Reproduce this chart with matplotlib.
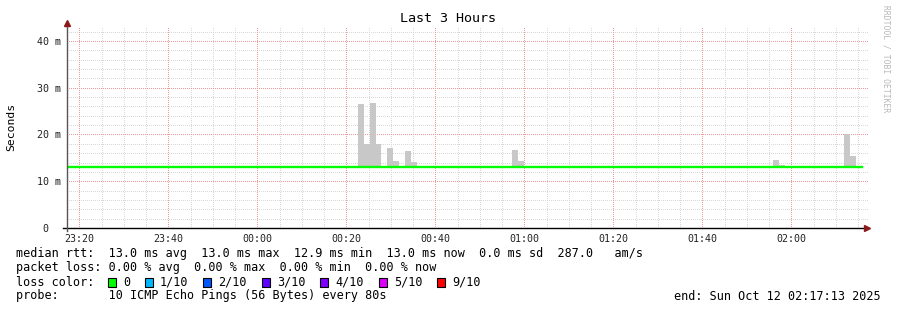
from datetime import datetime, timedelta

import matplotlib
matplotlib.use("Agg")
import matplotlib.dates as mdates
import matplotlib.pyplot as plt
from matplotlib.lines import Line2D
from matplotlib.patches import Rectangle


# DATA
START_TIME = datetime(2025, 10, 11, 23, 17, 13)
END_TIME = datetime(2025, 10, 12, 2, 17, 13)
STEP_SECONDS = 80

# median rtt per 80 s step (ms), flat the whole window
median_rtt_ms = [13.0] * 134

# smoke (spread of the 10 pings) only where it shows above the median
smoke_steps = [49, 50, 51, 52, 54, 55, 57, 58, 75, 76, 119, 120, 126, 127, 131, 132]
smoke_low_ms = [13.0, 13.0, 13.0, 13.0, 13.0, 13.0, 13.0, 13.0,
                13.0, 13.0, 13.0, 13.0, 13.0, 13.0, 13.0, 13.0]
smoke_high_ms = [26.5, 17.9, 26.8, 17.9, 17.1, 14.4, 16.5, 14.1,
                 16.7, 14.4, 14.6, 13.5, 13.3, 13.3, 20.1, 15.4]

y_ticks = [0, 10, 20, 30, 40]
y_tick_labels = ["0  ", "10 m", "20 m", "30 m", "40 m"]
y_minor_ticks = [2, 4, 6, 8, 12, 14, 16, 18, 22, 24, 26, 28,
                 32, 34, 36, 38, 42]
x_minor_minutes = [5, 10, 15, 25, 30, 35, 45, 50, 55]

loss_labels = ["0", "1/10", "2/10", "3/10", "4/10", "5/10", "9/10"]
loss_colors = ["#00ff00", "#00b8ff", "#0059ff", "#5e00ff",
               "#7e00ff", "#dd00ff", "#ff0000"]

legend_rows = [
    "median rtt:  13.0 ms avg  13.0 ms max  12.9 ms min  13.0 ms now  0.0 ms sd  287.0   am/s",
    "packet loss: 0.00 % avg  0.00 % max  0.00 % min  0.00 % now",
    "loss color:",
    "probe:       10 ICMP Echo Pings (56 Bytes) every 80s",
]
end_label = "end: Sun Oct 12 02:17:13 2025"


# LAYOUT (pixels of the 897 x 310 canvas)
W, H = 897, 310
MONO = "DejaVu Sans Mono"
SMOKE = "#c8c8c8"
MINOR_GRID = "#d8d8d8"
MAJOR_GRID = "#ee9999"
ARROW = "#8b1a1a"
DOTS = (0, (1, 2))


def fx(px):
    return px / W


def fy(py):
    return 1 - py / H


fig = plt.figure(figsize=(W / 100, H / 100), dpi=100, facecolor="white")
ax = fig.add_axes([fx(67), fy(228), (868 - 67) / W, (228 - 26) / H])

step = timedelta(seconds=STEP_SECONDS)
step_days = STEP_SECONDS / 86400

# smoke bars
bar_x = [mdates.date2num(START_TIME + s * step) for s in smoke_steps]
bar_h = [hi - lo for hi, lo in zip(smoke_high_ms, smoke_low_ms)]
ax.bar(bar_x, bar_h, width=step_days, bottom=smoke_low_ms,
       align="edge", color=SMOKE, linewidth=0, zorder=2)

# median line
line_x = [START_TIME + i * step for i in range(len(median_rtt_ms) + 1)]
line_y = median_rtt_ms + [median_rtt_ms[-1]]
ax.plot(line_x, line_y, drawstyle="steps-post", color="#00ff00",
        linewidth=1.7, zorder=3)

ax.set_xlim(START_TIME, END_TIME)
ax.set_ylim(0, 43.2)

ax.xaxis.set_major_locator(mdates.MinuteLocator(byminute=[0, 20, 40]))
ax.xaxis.set_minor_locator(mdates.MinuteLocator(byminute=x_minor_minutes))
ax.xaxis.set_major_formatter(mdates.DateFormatter("%H:%M"))
ax.set_yticks(y_ticks)
ax.set_yticklabels(y_tick_labels)
ax.set_yticks(y_minor_ticks, minor=True)

# grid: minor through the axis, major drawn at the major tick locations
ax.grid(which="minor", color=MINOR_GRID, linestyle=DOTS,
        linewidth=0.72, antialiased=False, zorder=0)
ax.grid(which="major", visible=False)
for loc in ax.xaxis.get_majorticklocs():
    ax.axvline(loc, color=MAJOR_GRID, linestyle=DOTS, linewidth=0.72,
               antialiased=False, zorder=1)
for loc in y_ticks[1:]:
    ax.axhline(loc, color=MAJOR_GRID, linestyle=DOTS, linewidth=0.72,
               antialiased=False, zorder=1)
ax.set_axisbelow(True)

ax.tick_params(which="both", length=0)
ax.tick_params(axis="x", pad=4)
ax.tick_params(axis="y", pad=4)
for label in ax.get_xticklabels() + ax.get_yticklabels():
    label.set_fontfamily(MONO)
    label.set_fontsize(7.2)
    label.set_color("#222222")

for spine in ax.spines.values():
    spine.set_visible(False)

# axes lines with rrdtool style arrows
fig.add_artist(Line2D([fx(63), fx(866)], [fy(228), fy(228)],
                      color="black", linewidth=1.0))
fig.add_artist(Line2D([fx(67), fx(67)], [fy(231), fy(26)],
                      color="#555555", linewidth=1.0))
fig.add_artist(Line2D([fx(867)], [fy(228)], marker=">", markersize=5,
                      color=ARROW, linewidth=0))
fig.add_artist(Line2D([fx(67)], [fy(23)], marker="^", markersize=5,
                      color=ARROW, linewidth=0))

# titles
fig.text(fx(448), fy(19), "Last 3 Hours", family=MONO, fontsize=9.6,
         ha="center", va="center")
fig.text(fx(11), fy(127), "Seconds", family=MONO, fontsize=8.2,
         rotation=90, ha="center", va="center")
fig.text(fx(886), fy(5), "RRDTOOL / TOBI OETIKER", family=MONO,
         fontsize=5.8, rotation=-90, ha="center", va="top", color="#b8b8b8")

# legend block
row_y = [254, 268, 282, 296]
for text, y in zip(legend_rows, row_y):
    fig.text(fx(16), fy(y), text, family=MONO, fontsize=8.5,
             ha="left", va="center", color="black")

fig.text(fx(881), fy(296), end_label, family=MONO, fontsize=8.5,
         ha="right", va="center", color="black")

box_x = [108, 145, 203, 262, 320, 379, 437]
for px, label, color in zip(box_x, loss_labels, loss_colors):
    fig.add_artist(Rectangle((fx(px), fy(286.5)), 8 / W, 9 / H,
                             facecolor=color, edgecolor="black",
                             linewidth=0.8))
    fig.text(fx(px + 15), fy(282), label, family=MONO, fontsize=8.5,
             ha="left", va="center", color="black")

fig.savefig("out.png", dpi=100, facecolor="white")
